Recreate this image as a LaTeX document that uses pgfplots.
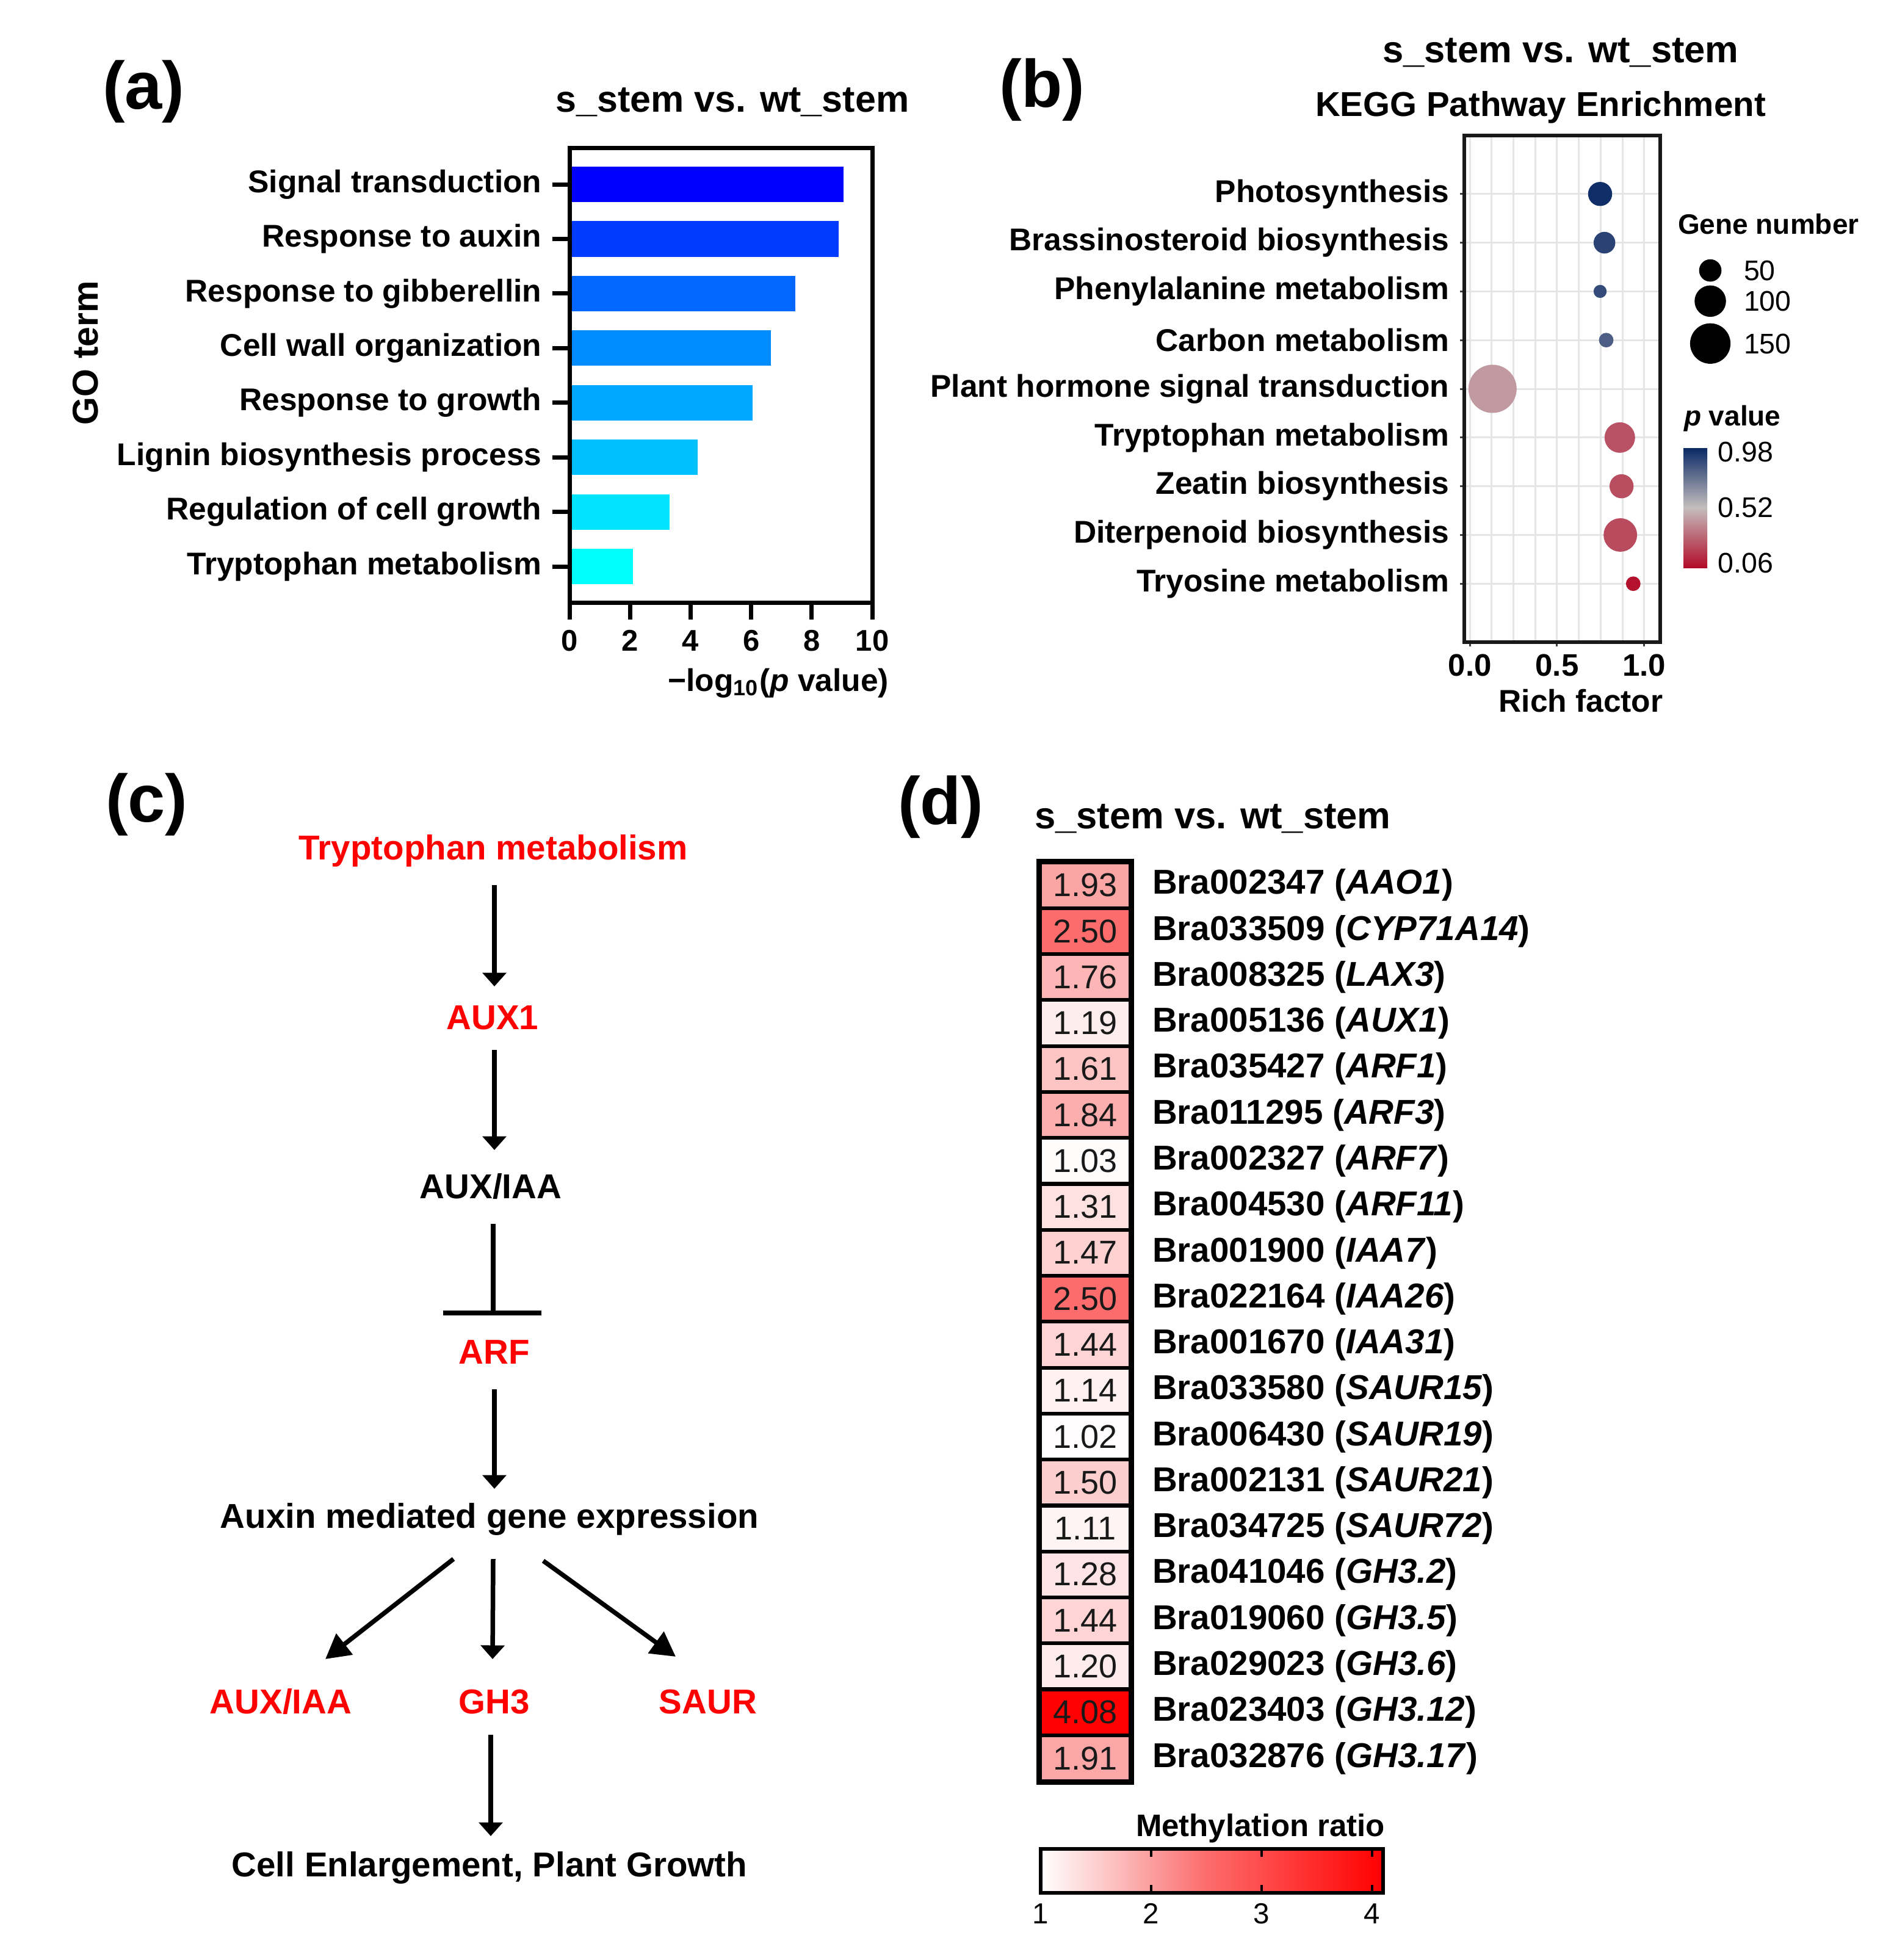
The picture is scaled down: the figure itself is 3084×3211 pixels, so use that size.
\documentclass[border=0pt]{standalone}
\usepackage{fontspec}
\setmainfont{Liberation Sans}
\usepackage{pgfplots}
\pgfplotsset{compat=1.18}
\usetikzlibrary{arrows.meta}
\newcommand\fsz[1]{\fontsize{#1}{#1}\selectfont}
\definecolor{gridc}{RGB}{229,229,229}
\definecolor{ba}{RGB}{0,0,255}
\definecolor{bb}{RGB}{0,60,255}
\definecolor{bc}{RGB}{0,104,255}
\definecolor{bd}{RGB}{0,140,255}
\definecolor{be}{RGB}{0,168,255}
\definecolor{bf}{RGB}{0,192,255}
\definecolor{bg}{RGB}{0,228,255}
\definecolor{bh}{RGB}{0,255,255}
\pgfdeclareplotmark{hcell}{\pgfsetlinewidth{0.62pt}\pgfpathrectangle{\pgfpoint{-14.49pt}{-7.22pt}}{\pgfpoint{28.98pt}{14.44pt}}\pgfusepathqfillstroke}
\pgfplotsset{gobar/.style={xbar, bar width=0.65, bar shift=0pt, draw=none, fill=#1}}

\begin{document}
\begin{tikzpicture}[x=0.2pt,y=-0.2pt]
\useasboundingbox (0,0) rectangle (3084,3211);

% ---------------- (a) ----------------
\begin{axis}[
  at={(186.6pt,-197.4pt)}, anchor=south west,
  scale only axis, width=99.2pt, height=148.8pt,
  xmin=0, xmax=10, ymin=0.34, ymax=8.66,
  xtick={0,2,4,6,8,10}, ytick={1,2,3,4,5,6,7,8},
  yticklabels={Tryptophan metabolism, Regulation of cell growth, Lignin biosynthesis process, Response to growth\hspace{0.278em}, Cell wall organization, Response to gibberellin, Response to auxin, Signal transduction},
  tick pos=left, tick align=outside, major tick length=5.6pt,
  axis line style={line width=1.4pt}, tick style={line width=1.4pt, black},
  yticklabel style={font=\bfseries\fsz{10.3pt}},
  xticklabel style={font=\bfseries\fsz{9.8pt}},
  /pgf/number format/assume math mode=true,
  axis on top,
]
\addplot[gobar=ba] coordinates {(9.05,8)};
\addplot[gobar=bb] coordinates {(8.89,7)};
\addplot[gobar=bc] coordinates {(7.45,6)};
\addplot[gobar=bd] coordinates {(6.65,5)};
\addplot[gobar=be] coordinates {(6.05,4)};
\addplot[gobar=bf] coordinates {(4.24,3)};
\addplot[gobar=bg] coordinates {(3.31,2)};
\addplot[gobar=bh] coordinates {(2.10,1)};
\end{axis}
\node[font=\bfseries\fsz{22pt}, anchor=base west, inner sep=0pt] at (167,179) {(a)};
\node[font=\bfseries\fsz{12.2pt}, anchor=base] at (1200,184) {s\_stem vs. wt\_stem};
\node[font=\bfseries\fsz{11.8pt}, rotate=90] at (140,578) {GO term};
\node[font=\bfseries\fsz{10.3pt}, anchor=base] at (1275,1132) {−log\textsubscript{10}(\textit{p} value)};

% ---------------- (b) ----------------
\begin{axis}[
  at={(479.8pt,-210.4pt)}, anchor=south west,
  scale only axis, width=64.2pt, height=166pt,
  xmin=-0.032, xmax=1.092, ymin=-0.2, ymax=10.2,
  xtick={0,0.5,1}, xticklabels={0.0,0.5,1.0},
  minor xtick={0.125,0.25,0.375,0.625,0.75,0.875},
  ytick={1,2,3,4,5,6,7,8,9},
  yticklabels={Tryosine metabolism, Diterpenoid biosynthesis, Zeatin biosynthesis, Tryptophan metabolism, Plant hormone signal transduction, Carbon metabolism, Phenylalanine metabolism, Brassinosteroid biosynthesis, Photosynthesis},
  grid=both, major grid style={gridc, line width=0.6pt}, minor grid style={gridc, line width=0.6pt},
  tick pos=left, tick align=outside, major tick length=1.4pt, minor tick length=0pt,
  tick style={line width=0.6pt, black!75},
  axis line style={line width=1.1pt, black!90},
  yticklabel style={font=\bfseries\fsz{10.3pt}},
  xticklabel style={font=\bfseries\fsz{10.2pt}, yshift=1pt},
  colormap={pval}{rgb255=(178,10,40) rgb255=(196,190,190) rgb255=(8,40,100)},
  point meta min=0.02, point meta max=1.02,
  colorbar shift/.style={},
  colorbar,
  colorbar style={
    at={(parent axis.north east)}, anchor=north west,
    xshift=7.6pt, yshift=-102.2pt,
    scale only axis, width=7.8pt, height=39.4pt,
    ytick={0.06,0.52,0.98}, yticklabels={0.06,0.52,0.98},
    yticklabel style={font=\fsz{9.3pt}},
    major tick length=0pt, tick style={draw=none},
    axis line style={draw=none},
  },
  clip=false,
]
\addplot[scatter, only marks, mark=*, scatter src=explicit,
  scatter/use mapped color={draw=mapped color, fill=mapped color},
  visualization depends on={0.5*sqrt(\thisrow{n}) \as \msz},
  scatter/@pre marker code/.append style={/tikz/mark size=\msz}]
  table[x=rf, y=k, meta=p] {
  rf    k  n   p
  0.747 9  56  1.00
  0.772 8  45  0.93
  0.747 7  15  0.90
  0.782 6  19  0.84
  0.130 5  237 0.42
  0.860 4  92  0.22
  0.870 3  56  0.21
  0.863 2  112 0.20
  0.937 1  19  0.04
};
\addplot[scatter, only marks, mark=*, scatter src=explicit,
  scatter/use mapped color={draw=black, fill=black},
  visualization depends on={0.5*sqrt(\thisrow{n}) \as \msz},
  scatter/@pre marker code/.append style={/tikz/mark size=\msz}]
  table[x=rf, y=k, meta=p] {
  rf    k    n   p
  1.379 7.43 48  0.5
  1.379 6.80 98  0.5
  1.379 5.93 165 0.5
};
\end{axis}
\node[font=\bfseries\fsz{22pt}, anchor=base west, inner sep=0pt] at (1636,176) {(b)};
\node[font=\bfseries\fsz{12.3pt}, anchor=base] at (2557,103) {s\_stem vs. wt\_stem};
\node[font=\bfseries\fsz{11.3pt}, anchor=base] at (2524,191) {KEGG Pathway Enrichment};
\node[font=\bfseries\fsz{10.3pt}, anchor=base] at (2590,1166) {Rich factor};
\node[font=\bfseries\fsz{9.2pt}, anchor=base west, inner sep=0pt] at (2748,383) {Gene number};
\node[font=\fsz{9.3pt}, anchor=west, inner sep=0pt] at (2856,443) {50};
\node[font=\fsz{9.3pt}, anchor=west, inner sep=0pt] at (2856,493) {100};
\node[font=\fsz{9.3pt}, anchor=west, inner sep=0pt] at (2856,563) {150};
\node[font=\bfseries\fsz{9.2pt}, anchor=base west, inner sep=0pt] at (2758,697) {\textit{p} value};

% ---------------- (c) ----------------
\node[font=\bfseries\fsz{22pt}, anchor=base west, inner sep=0pt] at (172,1346) {(c)};
\begin{scope}[font=\bfseries\fsz{11.3pt}]
\node[anchor=base, text=red] at (808,1408) {Tryptophan metabolism};
\node[anchor=base, text=red] at (807,1686) {AUX1};
\node[anchor=base] at (804,1963) {AUX/IAA};
\node[anchor=base, text=red] at (810,2234) {ARF};
\node[anchor=base] at (802,2503) {Auxin mediated gene expression};
\node[anchor=base, text=red] at (460,2807) {AUX/IAA};
\node[anchor=base, text=red] at (810,2807) {GH3};
\node[anchor=base, text=red] at (1160,2807) {SAUR};
\node[anchor=base] at (802,3074) {Cell Enlargement, Plant Growth};
\end{scope}
\begin{scope}[line width=1.5pt]
\draw[-{Triangle[width=7.7pt,length=4.5pt]}] (810,1450) -- (810,1616);
\draw[-{Triangle[width=7.7pt,length=4.5pt]}] (810,1720) -- (810,1884);
\draw (808,2005) -- (808,2151);
\draw (726,2151) -- (887,2151);
\draw[-{Triangle[width=7.7pt,length=4.5pt]}] (810,2276) -- (810,2439);
\draw[-{Triangle[width=8.5pt,length=8pt]}] (743,2554) -- (533,2718);
\draw[-{Triangle[width=7.7pt,length=4.5pt]}] (808,2554) -- (807,2718);
\draw[-{Triangle[width=8.5pt,length=8pt]}] (890,2557) -- (1107,2714);
\draw[-{Triangle[width=7.7pt,length=4.5pt]}] (804,2842) -- (804,3008);
\end{scope}

% ---------------- (d) ----------------
\pgfplotstableread{
x   k  v
0.5 1  1.93
0.5 2  2.50
0.5 3  1.76
0.5 4  1.19
0.5 5  1.61
0.5 6  1.84
0.5 7  1.03
0.5 8  1.31
0.5 9  1.47
0.5 10 2.50
0.5 11 1.44
0.5 12 1.14
0.5 13 1.02
0.5 14 1.50
0.5 15 1.11
0.5 16 1.28
0.5 17 1.44
0.5 18 1.20
0.5 19 4.08
0.5 20 1.91
}\heatdata
\begin{axis}[
  at={(340.8pt,-583.6pt)}, anchor=south west,
  scale only axis, width=29.6pt, height=301.1pt,
  xmin=0, xmax=1, ymin=0.5, ymax=20.5, y dir=reverse,
  xtick=\empty, ytick={1,...,20},
  yticklabels={Bra002347 (\textit{AAO1}), Bra033509 (\textit{CYP71A14}), Bra008325 (\textit{LAX3}), Bra005136 (\textit{AUX1}), Bra035427 (\textit{ARF1}), Bra011295 (\textit{ARF3}), Bra002327 (\textit{ARF7}), Bra004530 (\textit{ARF11}), Bra001900 (\textit{IAA7}), Bra022164 (\textit{IAA26}), Bra001670 (\textit{IAA31}), Bra033580 (\textit{SAUR15}), Bra006430 (\textit{SAUR19}), Bra002131 (\textit{SAUR21}), Bra034725 (\textit{SAUR72}), Bra041046 (\textit{GH3.2}), Bra019060 (\textit{GH3.5}), Bra029023 (\textit{GH3.6}), Bra023403 (\textit{GH3.12}), Bra032876 (\textit{GH3.17})},
  yticklabel pos=right, major tick length=0pt,
  yticklabel style={font=\bfseries\fsz{11.3pt}, anchor=west, inner sep=0pt, xshift=7pt},
  axis line style={line width=2.4pt}, axis on top,
  clip=false,
  colormap={wr}{rgb255(0cm)=(255,255,255) rgb255(1cm)=(252,158,158) rgb255(1.5cm)=(252,108,108) rgb255(2cm)=(255,75,75) rgb255(3.1cm)=(255,0,0)},
  point meta min=1, point meta max=4.1,
  colorbar shift/.style={},
  colorbar horizontal,
  colorbar style={
    at={(parent axis.south west)}, anchor=north west,
    xshift=0.2pt, yshift=-13.66pt,
    scale only axis, width=112.2pt, height=14.4pt,
    xtick={1,2,3,4}, xticklabels={1,2,3,4},
    xticklabel style={font=\fsz{9.5pt}},
    tick pos=both, xticklabel pos=lower, tick align=inside, major tick length=2.6pt,
    tick style={line width=0.9pt, black},
    axis line style={line width=1.2pt, black},
  },
]
\addplot[scatter, only marks, mark=hcell, scatter src=explicit,
  scatter/use mapped color={draw=black, fill=mapped color},
] table[x=x, y=k, meta=v] {\heatdata};
\addplot[draw=none, mark=none, point meta=explicit,
  nodes near coords={\pgfmathprintnumber[fixed, fixed zerofill, precision=2, assume math mode=true]{\pgfplotspointmeta}},
  nodes near coords align={center},
  every node near coord/.append style={font=\fsz{10.8pt}, text=black!90, anchor=center},
] table[x=x, y=k, meta=v] {\heatdata};
\end{axis}
\node[font=\bfseries\fsz{22pt}, anchor=base west, inner sep=0pt] at (1470,1350) {(d)};
\node[font=\bfseries\fsz{12.3pt}, anchor=base] at (1987,1357) {s\_stem vs. wt\_stem};
\node[font=\bfseries\fsz{10.2pt}, anchor=base] at (2065,3008) {Methylation ratio};
\end{tikzpicture}
\end{document}
